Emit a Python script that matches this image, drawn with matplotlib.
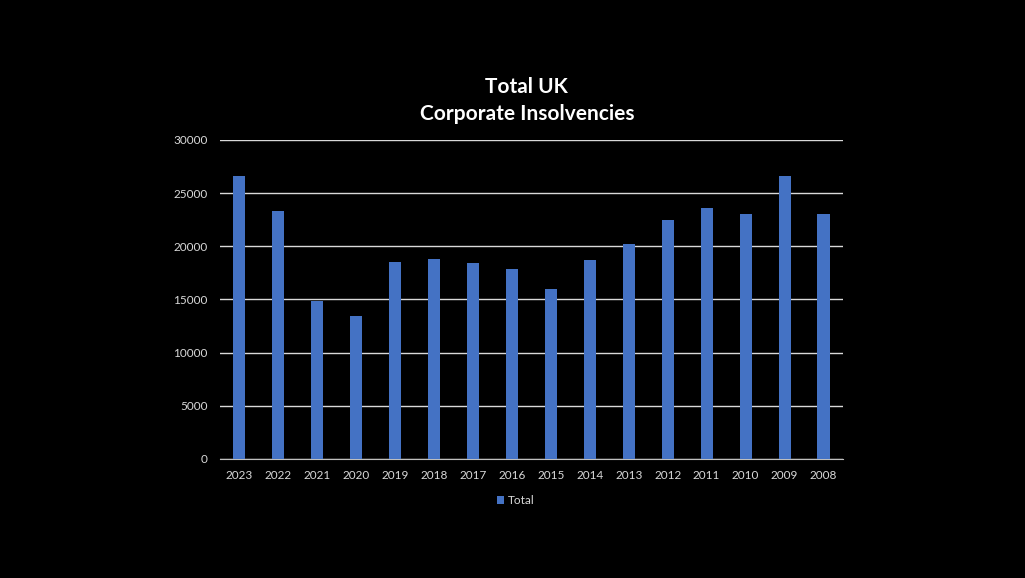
import matplotlib.pyplot as plt
import numpy as np

# ------------------------------------------------------------
# Data
# ------------------------------------------------------------
years = ["2023", "2022", "2021", "2020", "2019", "2018", "2017", "2016",
         "2015", "2014", "2013", "2012", "2011", "2010", "2009", "2008"]
totals = [26570, 23340, 14870, 13430, 18530, 18780, 18430, 17870,
          15940, 18690, 20220, 22520, 23590, 23030, 26570, 23030]

bar_color = "#4472C4"
text_color = "#D9D9D9"

# ------------------------------------------------------------
# Plot
# ------------------------------------------------------------
plt.rcParams["font.family"] = ["Lato", "DejaVu Sans"]

fig = plt.figure(figsize=(10.25, 5.78), dpi=100, facecolor="black")
ax = fig.add_axes([0.2146, 0.2059, 0.6078, 0.5519], facecolor="black")

x = np.arange(len(years))
ax.bar(x, totals, width=0.31, color=bar_color, label="Total", zorder=3)

ax.set_xlim(-0.5, len(years) - 0.5)
ax.set_ylim(0, 30000)
ax.set_yticks(range(0, 30001, 5000))
ax.set_xticks(x)
ax.set_xticklabels(years)

ax.grid(axis="y", color="#D9D9D9", linewidth=1, zorder=0)
for side in ["top", "right", "left"]:
    ax.spines[side].set_visible(False)
ax.spines["bottom"].set_color("#BFBFBF")
ax.tick_params(axis="both", length=0, colors=text_color, labelsize=8.5)
ax.tick_params(axis="x", pad=8)
ax.tick_params(axis="y", pad=9)

fig.text(0.514, 0.850, "Total UK", ha="center", va="center",
         fontsize=15, fontweight="bold", color="white")
fig.text(0.514, 0.803, "Corporate Insolvencies", ha="center", va="center",
         fontsize=15, fontweight="bold", color="white")

leg = fig.legend(loc="center", bbox_to_anchor=(0.503, 0.134), frameon=False,
                 fontsize=8.5, handlelength=0.6, handleheight=0.6,
                 handletextpad=0.3, labelcolor=text_color)

plt.savefig("out.png", dpi=100, facecolor="black")
